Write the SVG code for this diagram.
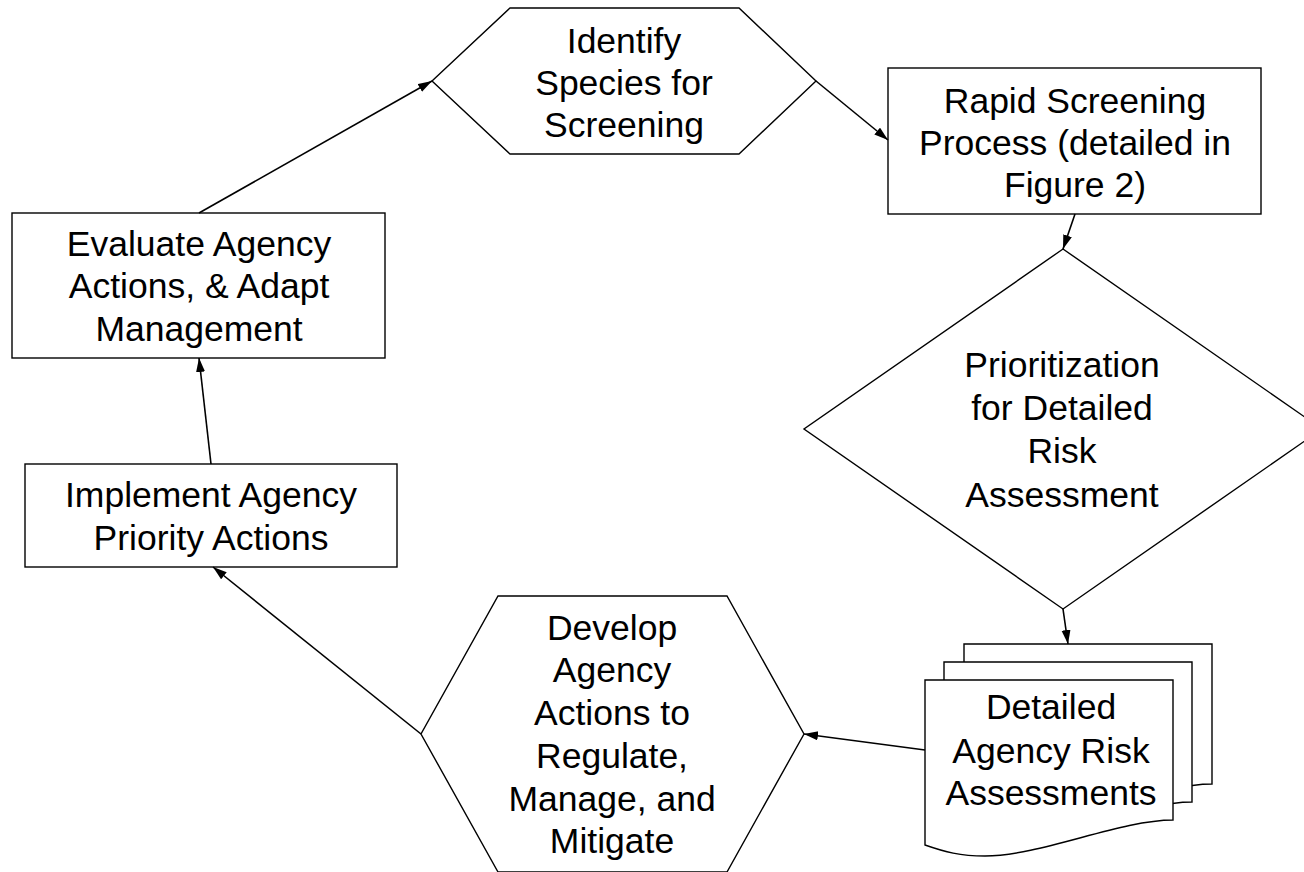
<svg xmlns="http://www.w3.org/2000/svg" width="1304" height="872" viewBox="0 0 1304 872">
<style>
.s{fill:#fff;stroke:#000;stroke-width:1.4}
.t{font-family:"Liberation Sans",Arial,sans-serif;font-size:35.5px;fill:#000;text-anchor:middle}
.c{fill:none;stroke:#000;stroke-width:1.6}
</style>
<defs>
<marker id="a" markerUnits="userSpaceOnUse" markerWidth="16" markerHeight="12" refX="14" refY="4.5" orient="auto">
<path d="M0,0 L14,4.5 L0,9 z" fill="#000"/>
</marker>
<path id="doc" d="M0,0 H248 V140 C195,140 115,176 60,176 C35,176 20,172 0,165 Z"/>
</defs>
<rect width="1304" height="872" fill="#fff"/>
<g id="n-identify">
<polygon class="s" points="510,8 739,8 816,81 739,154 510,154 432,81"/>
<text class="t" x="624" y="53">Identify</text>
<text class="t" x="624" y="95">Species for</text>
<text class="t" x="624" y="137">Screening</text>
</g>
<g id="n-rapid">
<rect class="s" x="888" y="68" width="373" height="146"/>
<text class="t" x="1075" y="113">Rapid Screening</text>
<text class="t" x="1075" y="155">Process (detailed in</text>
<text class="t" x="1075" y="197">Figure 2)</text>
</g>
<g id="n-prior">
<polygon class="s" points="1063,249 1322,429 1063,609 804,429"/>
<text class="t" x="1062" y="377">Prioritization</text>
<text class="t" x="1062" y="420">for Detailed</text>
<text class="t" x="1062" y="463">Risk</text>
<text class="t" x="1062" y="507">Assessment</text>
</g>
<g id="n-docs">
<use href="#doc" class="s" x="964" y="644"/>
<use href="#doc" class="s" x="944" y="662"/>
<use href="#doc" class="s" x="925" y="680"/>
<text class="t" x="1051" y="719">Detailed</text>
<text class="t" x="1051" y="763">Agency Risk</text>
<text class="t" x="1051" y="805">Assessments</text>
</g>
<g id="n-develop">
<polygon class="s" points="498,596 727,596 804,734 727,872 498,872 421,734"/>
<text class="t" x="612" y="640">Develop</text>
<text class="t" x="612" y="682">Agency</text>
<text class="t" x="612" y="725">Actions to</text>
<text class="t" x="612" y="768">Regulate,</text>
<text class="t" x="612" y="811">Manage, and</text>
<text class="t" x="612" y="853">Mitigate</text>
</g>
<g id="n-implement">
<rect class="s" x="25" y="464" width="372" height="103"/>
<text class="t" x="211" y="507">Implement Agency</text>
<text class="t" x="211" y="550">Priority Actions</text>
</g>
<g id="n-evaluate">
<rect class="s" x="12" y="213" width="373" height="145"/>
<text class="t" x="199" y="256">Evaluate Agency</text>
<text class="t" x="199" y="298">Actions, &amp; Adapt</text>
<text class="t" x="199" y="341">Management</text>
</g>
<g id="connectors">
<line class="c" x1="199" y1="213" x2="432" y2="81" marker-end="url(#a)"/>
<line class="c" x1="816" y1="81" x2="888" y2="140" marker-end="url(#a)"/>
<line class="c" x1="1075" y1="214" x2="1063" y2="249" marker-end="url(#a)"/>
<line class="c" x1="1063" y1="609" x2="1068" y2="644" marker-end="url(#a)"/>
<line class="c" x1="925" y1="750" x2="804" y2="734" marker-end="url(#a)"/>
<line class="c" x1="421" y1="734" x2="213" y2="567" marker-end="url(#a)"/>
<line class="c" x1="211" y1="464" x2="199" y2="358" marker-end="url(#a)"/>
</g>
</svg>
